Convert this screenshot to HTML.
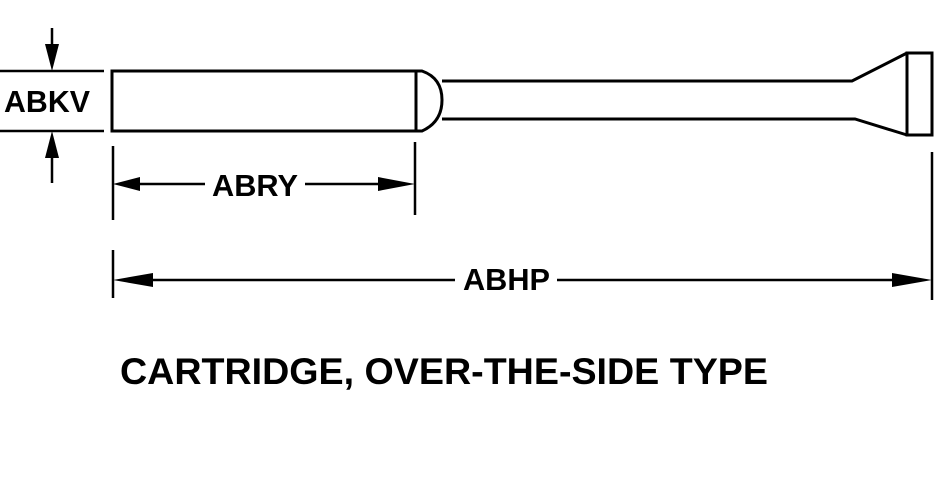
<!DOCTYPE html>
<html><head><style>html,body{margin:0;padding:0;background:#fff}</style></head><body>
<svg width="952" height="478" viewBox="0 0 952 478" xmlns="http://www.w3.org/2000/svg" style="display:block">
<g fill="none" stroke="#000" stroke-width="3">
<path d="M416 71 H112 V131 H416"/>
<path d="M416 71 V131"/>
<path d="M416 71 H422 Q442 78 442 100 Q442 122 422 131 H416"/>
<path d="M442 81 H852 L907 53"/>
<path d="M442 119 H855 L907 135"/>
<rect x="907" y="53" width="25" height="82"/>
</g>
<g stroke="#000" stroke-width="2.5" fill="none">
<path d="M0 71 H104 M0 131 H104"/>
<path d="M52 28 V50 M52 152 V183"/>
<path d="M113 146 V220 M415 142 V215"/>
<path d="M135 184 H205 M305 184 H395"/>
<path d="M113 250 V298 M932 152 V300"/>
<path d="M150 280 H455 M557 280 H900"/>
</g>
<g fill="#000">
<polygon points="52,71 45,44 59,44"/>
<polygon points="52,131 45,158 59,158"/>
<polygon points="113,184 140,177 140,191"/>
<polygon points="415,184 378,177 378,191"/>
<polygon points="113,280 153,273 153,287"/>
<polygon points="932,280 892,273 892,287"/>
</g>
<g font-family="Liberation Sans, sans-serif" font-weight="bold" fill="#000">
<text x="4" y="112" font-size="31" textLength="86" lengthAdjust="spacingAndGlyphs">ABKV</text>
<text x="212" y="196" font-size="31" textLength="86" lengthAdjust="spacingAndGlyphs">ABRY</text>
<text x="463" y="290" font-size="31" textLength="87" lengthAdjust="spacingAndGlyphs">ABHP</text>
<text x="120" y="384" font-size="37" textLength="648" lengthAdjust="spacingAndGlyphs">CARTRIDGE, OVER-THE-SIDE TYPE</text>
</g>
</svg>
</body></html>
